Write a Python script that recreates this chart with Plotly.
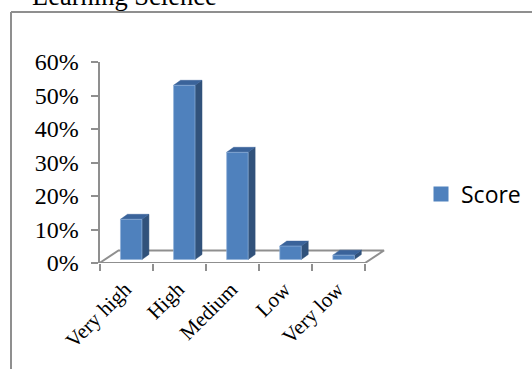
import plotly.graph_objects as go

categories = ["Very high", "High", "Medium", "Low", "Very low"]
scores = [0.12, 0.52, 0.32, 0.04, 0.013]
y_ticks = [0, 0.1, 0.2, 0.3, 0.4, 0.5, 0.6]
series_name = "Score"
title_text = "Learning Science"

W, H = 532, 369
X0, X1, Y0, Y60 = 99.5, 365.0, 263.0, 62.0
px_x = (X1 - X0) / 5
px_y = (Y0 - Y60) / 0.6

FLOOR_DX, FLOOR_DY = 19 / px_x, 12.5 / px_y
BAR_W, BAR_OFF, BAR_BASE = 0.404, 0.395, 3.5 / px_y
DEPTH_X, DEPTH_Y = 7 / px_x, 5 / px_y
X_EXTRA = 0.5      # room on the axis for the receding floor
LABEL_SHIFT = 0.02 # tick labels sit left of the category centre

GRAY = "#8f8f8f"
FRONT, SIDE, TOP = "#4f81bd", "#31527b", "#3a639a"
SERIF = "Liberation Serif"

side_x, side_y, top_x, top_y = [], [], [], []
for i, v in enumerate(scores):
    l = i + BAR_OFF
    r = l + BAR_W
    b = BAR_BASE
    t = BAR_BASE + v
    side_x += [r, r + DEPTH_X, r + DEPTH_X, r, r, None]
    side_y += [b, b + DEPTH_Y, t + DEPTH_Y, t, b, None]
    top_x += [l, l + DEPTH_X, r + DEPTH_X, r, l, None]
    top_y += [t, t + DEPTH_Y, t + DEPTH_Y, t, t, None]

fig = go.Figure()
fig.add_trace(go.Scatter(
    x=[0, FLOOR_DX, 5 + FLOOR_DX, 5, 0], y=[0, FLOOR_DY, FLOOR_DY, 0, 0],
    mode="lines", line=dict(color=GRAY, width=2), cliponaxis=False,
    showlegend=False, hoverinfo="skip"))
fig.add_trace(go.Scatter(
    x=side_x, y=side_y, mode="lines", fill="toself", fillcolor=SIDE,
    line=dict(color=SIDE, width=0.5), cliponaxis=False, showlegend=False, hoverinfo="skip"))
fig.add_trace(go.Scatter(
    x=top_x, y=top_y, mode="lines", fill="toself", fillcolor=TOP,
    line=dict(color=TOP, width=0.5), cliponaxis=False, showlegend=False, hoverinfo="skip"))
fig.add_trace(go.Bar(
    x=categories, y=scores, base=BAR_BASE, width=BAR_W,
    offset=BAR_OFF - 0.5 + LABEL_SHIFT, xaxis="x2", yaxis="y", showlegend=False,
    marker=dict(color=FRONT, line=dict(color="#8fb0d8", width=0.7))))
fig.add_trace(go.Scatter(
    x=[None], y=[None], mode="markers", name=series_name,
    marker=dict(symbol="square", size=15, color=FRONT)))

dom = [X0 / W, (X1 + X_EXTRA * px_x) / W]
fig.update_layout(
    template="none",
    width=W, height=H, autosize=False,
    margin=dict(l=0, r=0, t=0, b=0, pad=0),
    paper_bgcolor="white", plot_bgcolor="white",
    xaxis=dict(
        automargin=False,
        domain=dom, range=[0, 5 + X_EXTRA], tickmode="array",
        tickvals=[0, 1, 2, 3, 4, 5], showticklabels=False, ticks="outside",
        ticklen=7, tickwidth=2, tickcolor=GRAY, showline=False,
        showgrid=False, zeroline=False, anchor="y"),
    xaxis2=dict(
        automargin=False,
        domain=dom, type="category", categoryorder="array",
        categoryarray=categories,
        range=[-0.5 + LABEL_SHIFT, 4.5 + LABEL_SHIFT + X_EXTRA],
        overlaying="x", side="bottom",
        anchor="y", ticks="", showline=False, showgrid=False, tickangle=-45,
        zeroline=False, ticklabelstandoff=9,
        tickfont=dict(family=SERIF, size=21, color="#000000")),
    yaxis=dict(
        automargin=False,
        domain=[(H - Y0) / H, (H - Y60) / H], range=[0, 0.6], tickmode="array",
        tickvals=y_ticks, tickformat=".0%", ticks="outside", ticklen=7, tickwidth=2,
        tickcolor=GRAY, showline=True, linecolor=GRAY, linewidth=2, showgrid=False,
        zeroline=False, ticklabelstandoff=7,
        tickfont=dict(family=SERIF, size=24, color="#000000")),
    legend=dict(
        x=421 / W, y=(H - 194) / H, xanchor="left", yanchor="middle",
        itemsizing="trace", font=dict(family="Open Sans", size=23, color="#000000"),
        bgcolor="rgba(0,0,0,0)"),
    shapes=[
        dict(type="line", xref="paper", yref="paper", x0=11 / W, x1=1,
             y0=(H - 12) / H, y1=(H - 12) / H, line=dict(color=GRAY, width=2)),
        dict(type="line", xref="paper", yref="paper", x0=11 / W, x1=11 / W,
             y0=0, y1=(H - 12) / H, line=dict(color=GRAY, width=2)),
    ],
    annotations=[dict(
        text=title_text, xref="paper", yref="paper", x=30 / W, y=(H - 6) / H,
        xanchor="left", yanchor="bottom", yshift=-7, showarrow=False,
        font=dict(family=SERIF, size=26.5, color="#000000"))],
)
fig.write_html("out.html", config={"displayModeBar": False},
               post_script="document.body.style.margin='0';document.documentElement.style.overflow='hidden';")
